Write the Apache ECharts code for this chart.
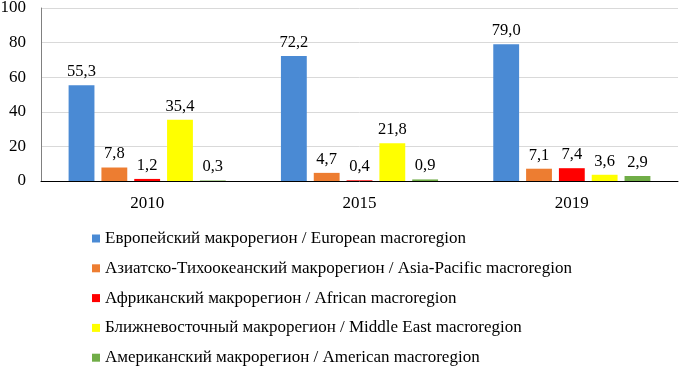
<!DOCTYPE html>
<html>
<head>
<meta charset="utf-8">
<script src="https://cdn.jsdelivr.net/npm/echarts@6/dist/echarts.min.js"></script>
<style>
html, body { margin: 0; padding: 0; background: #fff; }
#chart { width: 682px; height: 370px; }
</style>
</head>
<body>
<div id="chart"></div>
<script>
// годы
var years = ['2010', '2015', '2019'];
// доли макрорегионов, %
var european = [55.3, 72.2, 79.0];
var asiaPacific = [7.8, 4.7, 7.1];
var african = [1.2, 0.4, 7.4];
var middleEast = [35.4, 21.8, 3.6];
var american = [0.3, 0.9, 2.9];
var seriesNames = [
	'Европейский макрорегион / European macroregion',
	'Азиатско-Тихоокеанский макрорегион / Asia-Pacific macroregion',
	'Африканский макрорегион / African macroregion',
	'Ближневосточный макрорегион / Middle East macroregion',
	'Американский макрорегион / American macroregion'
];
var seriesData = [european, asiaPacific, african, middleEast, american];
var colors = ['#4a8ad4', '#ed7d31', '#ff0000', '#ffff00', '#70ad47'];

var font = '"Liberation Serif", "Times New Roman", serif';
var myChart = echarts.init(document.getElementById('chart'));

var series = seriesNames.map(function (name, i) {
	return {
		name: name,
		type: 'bar',
		data: seriesData[i],
		barGap: '27%',
		barCategoryGap: '26%',
		itemStyle: { color: colors[i] },
		label: {
			show: true,
			position: 'top',
			distance: 5,
			color: '#000',
			fontFamily: font,
			fontSize: 16.5,
			formatter: function (p) { return p.value.toFixed(1).replace('.', ','); }
		}
	};
});

var option = {
	animation: false,
	color: colors,
	grid: { left: 41, right: 4, top: 8, bottom: 189, containLabel: false, outerBoundsMode: 'none' },
	legend: {
		orient: 'vertical',
		left: 92,
		top: 230,
		height: 150,
		padding: 0,
		itemWidth: 8,
		itemHeight: 8,
		itemGap: 12.8,
		icon: 'rect',
		textStyle: { fontFamily: font, fontSize: 17, color: '#000' },
		data: seriesNames
	},
	xAxis: {
		type: 'category',
		data: years,
		axisLine: { lineStyle: { color: '#000', width: 1 } },
		axisTick: { show: false },
		axisLabel: { color: '#000', fontFamily: font, fontSize: 17, margin: 14 }
	},
	yAxis: {
		type: 'value',
		min: 0,
		max: 100,
		interval: 20,
		axisLine: { show: true, lineStyle: { color: '#808080' } },
		axisTick: { show: false },
		axisLabel: { color: '#000', fontFamily: font, fontSize: 17, margin: 15 },
		splitLine: { lineStyle: { color: '#d9d9d9' } }
	},
	series: series
};
myChart.setOption(option);
</script>
</body>
</html>
